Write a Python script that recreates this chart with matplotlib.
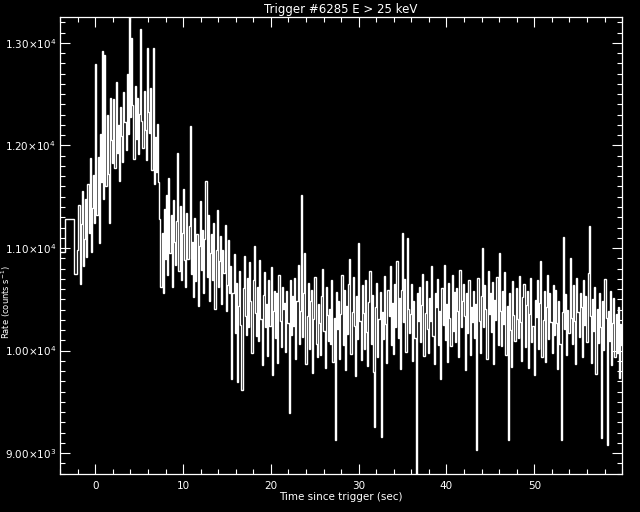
import numpy as np
import matplotlib.pyplot as plt
from matplotlib.ticker import MultipleLocator


TITLE = "Trigger #6285 E > 25 keV"
XLABEL = "Time since trigger (sec)"
YLABEL = "Rate (counts s$^{-1}$)"

# 1.024 s pre-trigger bins (edges in sec) and rates
pre_edges = [-4.515, -3.491, -2.467, -2.048]
pre_rate = [10960, 11283, 10746]

# 0.128 s bins from -2.048 s on (one row ~ 1 s)
BIN_START = -2.048
BIN_WIDTH = 0.128
rate = [
    10980, 11420, 10650, 11230, 11560, 10820, 11090, 11480,
    10910, 11620, 11150, 11880, 10960, 11390, 11710, 11240,
    12790, 11320, 11890, 11050, 12110, 11640, 12920, 11480,
    12880, 11600, 12300, 11720, 11240, 12460, 12050, 11830,
    12450, 11780, 12620, 11930, 12200, 11650, 12380, 12090,
    11840, 12520, 12230, 11960, 12700, 12110, 13254, 12280,
    13050, 12390, 11870, 12580, 12060, 12460, 11920, 12310,
    13140, 12240, 11980, 12530, 12150, 11860, 12950, 12330,
    12120, 12560, 11760, 12950, 11620, 12080, 11740, 12210,
    11640, 11280, 10620, 11150, 10560, 11380, 10890, 11520,
    10740, 11680, 10950, 11320, 10620, 11470, 11060, 10830,
    11260, 11930, 10780, 11410, 10690, 11150, 11580, 10880,
    10620, 11340, 10890, 11210, 12190, 10750, 11060, 10520,
    11290, 10680, 11140, 10430, 11020, 11460, 10790, 11180,
    10560, 11090, 11650, 10720, 11320, 10480, 10950, 11140,
    10690, 11240, 10410, 10980, 11370, 10620, 10870, 11120,
    10450, 10980, 10760, 11220, 10390, 10640, 11080, 10560,
    10820, 9720, 10560, 10940, 10170, 10660, 9690, 10430,
    10780, 10250, 9620, 10610, 10920, 10340, 10150, 10710,
    10230, 10860, 10480, 9980, 10690, 11020, 10370, 10140,
    10620, 10090, 10880, 10310, 9860, 10540, 10770, 10230,
    10450, 9950, 10690, 10240, 10810, 9760, 10390, 10580,
    10120, 10560, 9880, 10740, 10290, 10030, 10620, 10410,
    10460, 9990, 10580, 10270, 9390, 10690, 10150, 10530,
    10240, 10710, 9920, 10480, 10830, 10060, 10390, 11520,
    10130, 10560, 10950, 9870, 10340, 10660, 10020, 10480,
    10590, 9780, 10310, 10720, 10060, 9940, 10450, 10270,
    9960, 10530, 10800, 10190, 9830, 10620, 10350, 10090,
    10410, 10060, 10690, 9890, 10320, 9130, 10570, 10210,
    10480, 9920, 10360, 10740, 10050, 10590, 9810, 10430,
    10160, 10650, 10890, 9970, 10380, 10720, 10240, 9750,
    10530, 10110, 11050, 10290, 9910, 10640, 10370, 10020,
    10690, 10180, 9850, 10470, 10780, 10060, 10540, 9790,
    9250, 10420, 10660, 9940, 10310, 10570, 9160, 10380,
    10110, 10730, 10260, 9880, 10590, 10340, 10820, 10050,
    10460, 9970, 10650, 10230, 10870, 10120, 10510, 9820,
    10590, 11150, 10280, 10700, 9990, 11100, 10410, 10170,
    10360, 10650, 9900, 10480, 10120, 8795, 10560, 10290,
    10620, 10080, 10440, 10750, 9950, 10370, 10680, 10210,
    9980, 10510, 10290, 10820, 10140, 9870, 10560, 10420,
    10700, 10050, 10390, 9720, 10610, 10250, 10830, 10100,
    10450, 9890, 10660, 10320, 10040, 10740, 10190, 10570,
    10080, 10610, 10390, 9940, 10790, 10230, 10480, 10650,
    10340, 9810, 10560, 10170, 10690, 9960, 10420, 10280,
    10580, 10120, 10450, 9030, 10710, 10290, 9980, 10530,
    11000, 10230, 10640, 10410, 9920, 10780, 10360, 10560,
    10180, 10670, 9870, 10490, 10300, 10720, 10050, 10950,
    10390, 10040, 10580, 10260, 10770, 9960, 10430, 9130,
    10560, 10200, 9840, 10680, 10350, 10090, 10610, 10310,
    10120, 10730, 10280, 9900, 10520, 10650, 10030, 10440,
    10580, 9830, 10360, 10710, 10080, 10240, 9760, 10490,
    10330, 10690, 10020, 10460, 10870, 9940, 10300, 10580,
    9890, 10420, 10740, 10110, 10560, 10280, 9980, 10640,
    10150, 10590, 10270, 9820, 10480, 10060, 9130, 10380,
    11110, 10210, 10550, 9960, 10400, 10170, 10900, 10320,
    10060, 10640, 10290, 9870, 10710, 10380, 10130, 10560,
    10420, 9940, 10690, 10250, 10530, 10080, 10760, 11210,
    10340, 9880, 10500, 10190, 10620, 9770, 10410, 10070,
    10560, 10230, 9150, 10480, 10010, 10700, 10320, 9080,
    10390, 10090, 10580, 9860, 10270, 10510, 9940, 10360,
    9980, 10420, 9730, 10260, 10050,
]

y_ticks = [9000, 10000, 11000, 12000, 13000]
y_tick_labels = [
    r"9.00$\times$10$^{3}$",
    r"1.00$\times$10$^{4}$",
    r"1.10$\times$10$^{4}$",
    r"1.20$\times$10$^{4}$",
    r"1.30$\times$10$^{4}$",
]
x_ticks = [0, 10, 20, 30, 40, 50]

edges = np.concatenate([
    pre_edges[:-1],
    BIN_START + BIN_WIDTH * np.arange(len(rate) + 1),
])
values = np.array(pre_rate + rate, dtype=float)

fig = plt.figure(figsize=(6.4, 5.12), dpi=100, facecolor="black")
ax = fig.add_axes([0.094, 0.074, 0.878, 0.893], facecolor="black")

ax.stairs(values, edges, baseline=None, color="white", linewidth=1.0)

ax.set_xlim(-4, 60)
ax.set_ylim(8795, 13254)

ax.set_xticks(x_ticks)
ax.xaxis.set_minor_locator(MultipleLocator(2))
ax.set_yticks(y_ticks, y_tick_labels)
ax.yaxis.set_minor_locator(MultipleLocator(100))

for s in ax.spines.values():
    s.set_color("white")
    s.set_linewidth(0.9)

ax.tick_params(which="both", direction="in", colors="white",
               top=True, right=True, labelsize=7.5, width=0.8)
ax.tick_params(which="major", length=7)
ax.tick_params(which="minor", length=3.5)
ax.tick_params(axis="x", pad=5)
ax.tick_params(axis="y", pad=3)

ax.set_title(TITLE, color="white", fontsize=8.5, pad=3)
ax.set_xlabel(XLABEL, color="white", fontsize=7.5, labelpad=1)
# y label squeezed into the strip left of the tick labels, between two of them
fig.text(0.01, 0.41, YLABEL, color="white", fontsize=6,
         rotation=90, ha="center", va="center")

fig.savefig("out.png", dpi=100, facecolor="black")
